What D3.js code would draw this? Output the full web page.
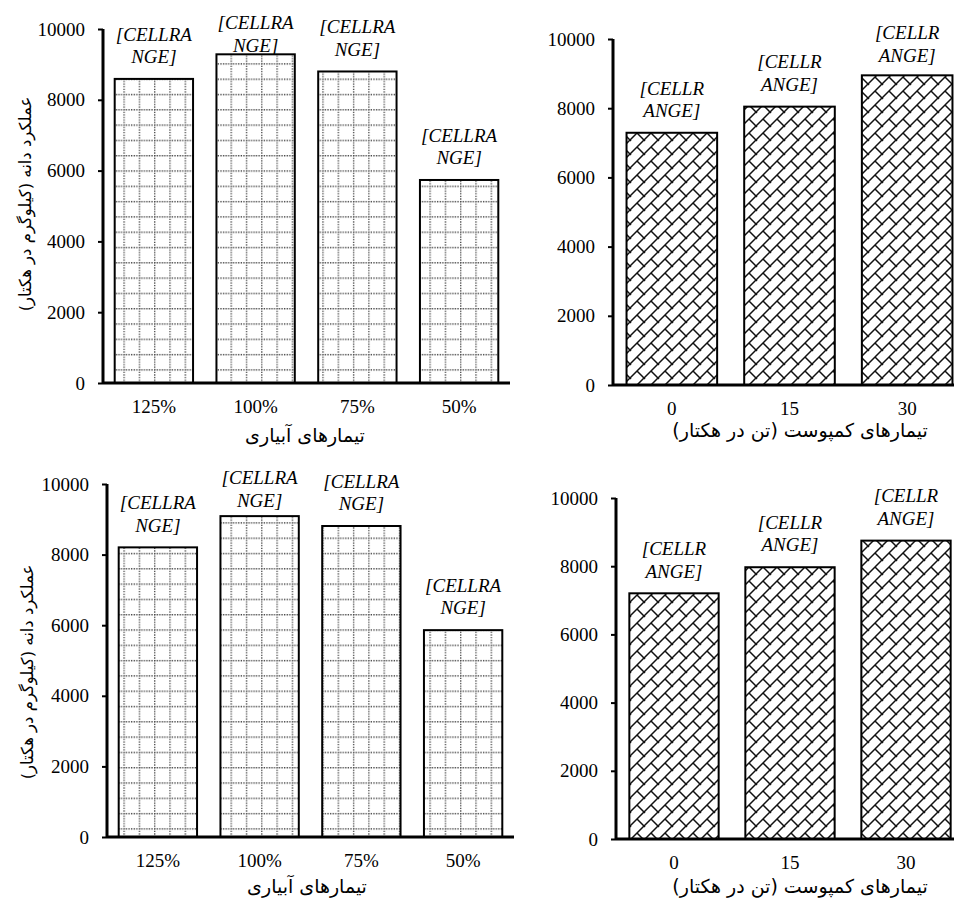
<!DOCTYPE html>
<html>
<head>
<meta charset="utf-8">
<script src="https://cdn.jsdelivr.net/npm/d3@7"></script>
<style>
  html, body { margin: 0; padding: 0; background: #fff; }
  svg { display: block; }
</style>
</head>
<body>
<svg id="chart" width="954" height="900"></svg>
<script>
// Categories
const irrigationCats = ["125%", "100%", "75%", "50%"];
const compostCats = ["0", "15", "30"];

// Grain yield (kg/ha)
const yieldIrrigationTop = [8590, 9285, 8800, 5735];
const yieldCompostTop = [7290, 8045, 8950];
const yieldIrrigationBottom = [8205, 9090, 8810, 5860];
const yieldCompostBottom = [7205, 7970, 8750];

// Axis ticks
const yTicks = [0, 2000, 4000, 6000, 8000, 10000];

// Data label text (two lines each)
const irrigationLabel = ["[CELLRA", "NGE]"];
const compostLabel = ["[CELLR", "ANGE]"];

// Axis titles
const irrigationTitle = "تیمارهای آبیاری";
const compostTitle = "تیمارهای کمپوست (تن در هکتار)";
const yieldTitle = "عملکرد دانه (کیلوگرم در هکتار)";

const SERIF = "'Liberation Serif', 'Times New Roman', Times, serif";
const ARABIC = "'DejaVu Sans', sans-serif";

const svg = d3.select("#chart");
const defs = svg.append("defs");

// Dotted grid fill for irrigation bars
const gridStep = 15.3;
const grid = defs.append("pattern")
  .attr("id", "dotgrid")
  .attr("patternUnits", "userSpaceOnUse")
  .attr("width", gridStep).attr("height", gridStep)
  .attr("x", 1).attr("y", 2);
grid.append("rect").attr("width", gridStep).attr("height", gridStep).attr("fill", "#fff");
grid.append("line").attr("x1", 0).attr("y1", 0.7).attr("x2", gridStep).attr("y2", 0.7)
  .attr("stroke", "#444").attr("stroke-width", 1.3).attr("stroke-dasharray", "1.3 1.25");
grid.append("line").attr("x1", 0.7).attr("y1", 0).attr("x2", 0.7).attr("y2", gridStep)
  .attr("stroke", "#444").attr("stroke-width", 1.3).attr("stroke-dasharray", "1.3 1.25");

// Diagonal brick fill for compost bars
const bs = 14;
const brick = defs.append("pattern")
  .attr("id", "brick")
  .attr("patternUnits", "userSpaceOnUse")
  .attr("width", bs).attr("height", bs);
brick.append("rect").attr("width", bs).attr("height", bs).attr("fill", "#fff");
brick.append("path")
  .attr("d", `M-1,${bs + 1}L${bs + 1},-1 M${bs / 2},${bs / 2}L${bs + 1},${bs + 1} M-1,-1L1,1`)
  .attr("stroke", "#111").attr("stroke-width", 1.5).attr("fill", "none");

function styleSerif(sel, italic) {
  sel.attr("font-family", null).attr("font-size", null)
    .style("font-family", SERIF).style("font-size", "19px")
    .style("font-style", italic ? "italic" : "normal").style("fill", "#000");
}

function drawPanel(cfg) {
  const g = svg.append("g");
  const x = d3.scaleBand().domain(cfg.cats).range([cfg.x0, cfg.x1])
    .paddingInner(0.23).paddingOuter(0.115);
  const y = d3.scaleLinear().domain([0, 10000]).range([cfg.yBot, cfg.yTop]);

  // Bars
  g.selectAll("rect.bar").data(cfg.values).join("rect")
    .attr("class", "bar")
    .attr("x", (d, i) => x(cfg.cats[i]))
    .attr("y", d => y(d))
    .attr("width", x.bandwidth())
    .attr("height", d => y(0) - y(d))
    .attr("fill", `url(#${cfg.pattern})`)
    .attr("stroke", "#000").attr("stroke-width", 2);

  // Y axis
  const yAxis = g.append("g")
    .attr("transform", `translate(${cfg.x0},0)`)
    .call(d3.axisLeft(y).tickValues(yTicks).tickSize(5).tickPadding(13).tickFormat(d3.format("d")));
  yAxis.attr("font-family", null).attr("font-size", null);
  yAxis.select(".domain").attr("stroke-width", 3).attr("d", `M0,${cfg.yTop}V${cfg.yBot}`);
  yAxis.selectAll(".tick line").attr("stroke-width", 2);
  styleSerif(yAxis.selectAll(".tick text"), false);

  // X axis
  const xAxis = g.append("g")
    .attr("transform", `translate(0,${cfg.yBot})`)
    .call(d3.axisBottom(x).tickSize(0).tickPadding(17));
  xAxis.attr("font-family", null).attr("font-size", null);
  xAxis.select(".domain").attr("stroke-width", 3.2).attr("d", `M${cfg.x0},0H${cfg.x1}`);
  styleSerif(xAxis.selectAll(".tick text"), false);

  // Data labels, kept inside the plot top
  const lab = g.selectAll("text.bar-label").data(cfg.values).join("text")
    .attr("class", "bar-label")
    .attr("text-anchor", "middle")
    .attr("x", (d, i) => x(cfg.cats[i]) + x.bandwidth() / 2)
    .attr("y", d => Math.max(y(d) - 44.5, cfg.yTop - 6))
    .attr("dy", "0.33em");
  styleSerif(lab, true);
  lab.append("tspan").text(cfg.label[0]);
  lab.append("tspan").attr("dy", 22.5).attr("x", (d, i) => x(cfg.cats[i]) + x.bandwidth() / 2).text(cfg.label[1]);

  // X title
  g.append("text")
    .attr("text-anchor", "middle")
    .attr("x", cfg.xTitleX).attr("y", cfg.xTitleY).attr("dy", "0.35em")
    .style("font-family", ARABIC).style("font-size", "19px").style("direction", "rtl")
    .text(cfg.xTitle);

  // Y title
  if (cfg.yTitle) {
    g.append("text")
      .attr("text-anchor", "middle")
      .attr("transform", `translate(${cfg.yTitleX},${cfg.yTitleY}) rotate(-90)`)
      .attr("dy", "0.35em")
      .style("font-family", ARABIC).style("font-size", "16.5px").style("direction", "rtl")
      .text(cfg.yTitle);
  }
}

drawPanel({ cats: irrigationCats, values: yieldIrrigationTop, pattern: "dotgrid", label: irrigationLabel,
  x0: 103, x1: 510, yTop: 29, yBot: 383, xTitle: irrigationTitle, xTitleX: 305, xTitleY: 435,
  yTitle: yieldTitle, yTitleX: 25, yTitleY: 204 });
drawPanel({ cats: compostCats, values: yieldCompostTop, pattern: "brick", label: compostLabel,
  x0: 613, x1: 966, yTop: 39, yBot: 385, xTitle: compostTitle, xTitleX: 800, xTitleY: 430 });
drawPanel({ cats: irrigationCats, values: yieldIrrigationBottom, pattern: "dotgrid", label: irrigationLabel,
  x0: 107, x1: 514, yTop: 484, yBot: 837, xTitle: irrigationTitle, xTitleX: 307, xTitleY: 886,
  yTitle: yieldTitle, yTitleX: 27, yTitleY: 672 });
drawPanel({ cats: compostCats, values: yieldCompostBottom, pattern: "brick", label: compostLabel,
  x0: 616, x1: 964, yTop: 498, yBot: 839, xTitle: compostTitle, xTitleX: 800, xTitleY: 886 });
</script>
</body>
</html>
